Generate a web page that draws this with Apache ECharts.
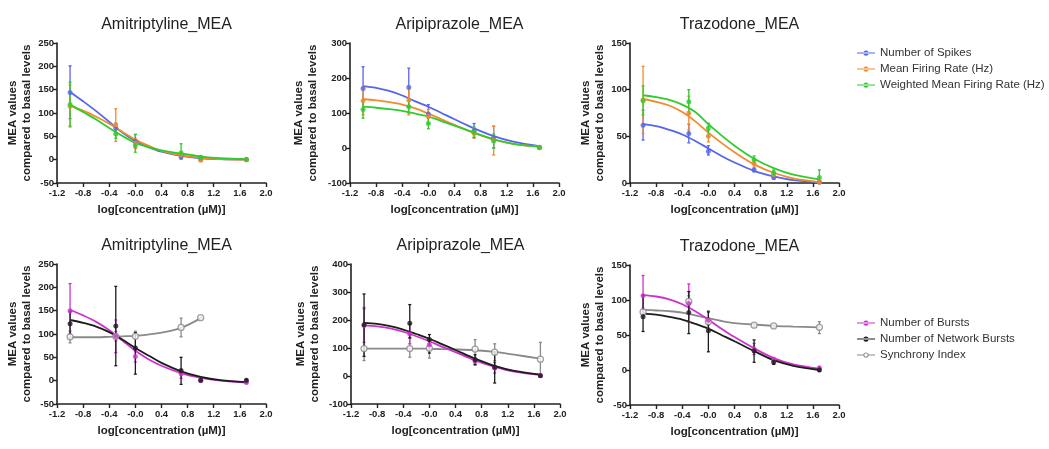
<!DOCTYPE html>
<html>
<head>
<meta charset="utf-8">
<script src="https://cdn.jsdelivr.net/npm/echarts@6/dist/echarts.min.js"></script>
<style>html,body{margin:0;padding:0;background:#fff;}#c{width:1049px;height:449px;}</style>
</head>
<body>
<div id="c"></div>
<script>
// ---------- data ----------
const titles = ['Amitriptyline_MEA','Aripiprazole_MEA','Trazodone_MEA','Amitriptyline_MEA','Aripiprazole_MEA','Trazodone_MEA'];
const xTicks = ['-1.2','-0.8','-0.4','-0.0','0.4','0.8','1.2','1.6','2.0'];
const doses = [-1, -0.3, 0, 0.7, 1.0, 1.7];
const curveX = [-1, -0.8, -0.6, -0.4, -0.2, 0, 0.2, 0.4, 0.7, 1.0, 1.3, 1.7];
const yMins = [-50, -100, 0, -50, -100, -50];
const yMaxs = [250, 300, 150, 250, 400, 150];
const yInts = [50, 100, 50, 50, 100, 50];
const topNames = ['Number of Spikes', 'Mean Firing Rate (Hz)', 'Weighted Mean Firing Rate (Hz)'];
const botNames = ['Number of Bursts', 'Number of Network Bursts', 'Synchrony Index'];

// Panel 1: Amitriptyline (top)
const amiSpikesPts = [144, 68, 39, 6, 1, 0];
const amiSpikesErr = [[88,201],[58,78],[24,54],[2,10],[-1,3],[-1,1]];
const amiSpikesFit = [145, 125, 104, 81, 58, 40, 27, 17, 8, 3, 1, 0];
const amiMfrPts = [114, 75, 35, 10, -1, 0];
const amiMfrErr = [[70,160],[39,109],[24,46],[5,15],[-3,1],[-2,2]];
const amiMfrFit = [116, 105, 92, 77, 60, 43, 30, 19, 9, 4, 1, 0];
const amiWmfrPts = [118, 55, 30, 15, 5, 1];
const amiWmfrErr = [[72,166],[46,64],[16,54],[1,34],[2,8],[-1,3]];
const amiWmfrFit = [118, 102, 86, 68, 51, 36, 27, 20, 13, 7, 3, 1];
// Panel 2: Aripiprazole (top)
const ariSpikesPts = [170, 173, 97, 50, 30, 2];
const ariSpikesErr = [[108,232],[118,228],[70,124],[30,70],[0,62],[0,4]];
const ariSpikesFit = [177, 172, 163, 150, 133, 118, 100, 82, 56, 34, 18, 5];
const ariMfrPts = [135, 137, 90, 42, 22, 2];
const ariMfrErr = [[95,175],[95,178],[70,110],[28,56],[-20,62],[0,4]];
const ariMfrFit = [140, 136, 131, 124, 113, 98, 82, 66, 43, 24, 12, 4];
const ariWmfrPts = [110, 118, 70, 45, 20, 1];
const ariWmfrErr = [[85,135],[100,135],[55,85],[30,60],[0,40],[-1,3]];
const ariWmfrFit = [118, 115, 111, 106, 98, 90, 77, 64, 44, 25, 12, 4];
// Panel 3: Trazodone (top)
const traSpikesPts = [62, 53, 34, 14, 6, 1];
const traSpikesErr = [[46,78],[43,63],[30,40],[12,16],[4,8],[0,2]];
const traSpikesFit = [63, 61, 57, 52, 45, 37, 29, 22, 13, 7, 3, 1];
const traMfrPts = [89, 75, 50, 21, 9, 1];
const traMfrErr = [[53,125],[57,93],[44,56],[17,25],[6,12],[-1,3]];
const traMfrFit = [90, 87, 83, 76, 66, 54, 43, 33, 20, 11, 5, 1];
const traWmfrPts = [88, 87, 59, 25, 11, 6];
const traWmfrErr = [[73,104],[74,100],[50,64],[21,29],[8,14],[0,14]];
const traWmfrFit = [94, 92, 89, 84, 76, 63, 51, 40, 26, 16, 9, 4];
// Panel 4: Amitriptyline (bottom)
const amiBurstPts = [150, 95, 52, 15, 0, -4];
const amiBurstErr = [[92,208],[60,130],[40,64],[5,25],[-2,2],[-6,-2]];
const amiBurstFit = [152, 140, 126, 108, 86, 64, 46, 32, 16, 6, 0, -4];
const amiNetPts = [122, 117, 70, 21, 1, 1];
const amiNetErr = [[100,148],[32,202],[14,103],[-8,50],[-1,3],[-1,3]];
const amiNetFit = [130, 124, 116, 104, 88, 70, 54, 38, 20, 8, 1, -3];
const amiSyncPts = [94, 95, 95, 114, 135, null];
const amiSyncErr = [[81,106],[85,105],[73,106],[94,134],[133,137],null];
const amiSyncFit = [93, 93, 93, 94, 95, 96, 99, 103, 113, 134, null, null];
// Panel 5: Aripiprazole (bottom)
const ariBurstPts = [180, 150, 112, 52, 29, 2];
const ariBurstErr = [[120,240],[115,185],[95,130],[40,64],[10,48],[0,4]];
const ariBurstFit = [181, 177, 170, 158, 142, 124, 104, 85, 56, 33, 16, 4];
const ariNetPts = [183, 188, 130, 58, 31, 1];
const ariNetErr = [[70,293],[136,255],[82,148],[40,76],[-25,85],[-3,5]];
const ariNetFit = [190, 186, 178, 166, 150, 133, 113, 93, 62, 36, 18, 5];
const ariSyncPts = [98, 98, 99, 96, 85, 60];
const ariSyncErr = [[55,245],[67,136],[64,134],[64,130],[55,115],[5,120]];
const ariSyncFit = [98, 98, 98, 98, 98, 97, 96, 95, 92, 86, 76, 62];
// Panel 6: Trazodone (bottom)
const traBurstPts = [106, 95, 71, 30, 15, 3];
const traBurstErr = [[78,135],[68,123],[60,82],[22,38],[12,18],[1,5]];
const traBurstFit = [107, 105, 101, 94, 84, 72, 59, 47, 31, 17, 8, 2];
const traNetPts = [76, 82, 56, 27, 11, 0];
const traNetErr = [[55,107],[52,112],[26,84],[11,43],[8,14],[-2,2]];
const traNetFit = [81, 79, 76, 72, 66, 59, 50, 41, 27, 14, 6, 0];
const traSyncPts = [83, 98, 69, 64, 63, 61];
const traSyncErr = [[78,88],[90,106],[64,74],[62,66],[61,65],[52,69]];
const traSyncFit = [86, 85, 84, 82, 78, 74, 70, 67, 65, 63, 62, 61];

const colors = {
  'Number of Spikes': '#5565ec',
  'Mean Firing Rate (Hz)': '#f28a2e',
  'Weighted Mean Firing Rate (Hz)': '#2fcc2f',
  'Number of Bursts': '#cc33cc',
  'Number of Network Bursts': '#1c1c1c',
  'Synchrony Index': '#8a8a8a'
};

const panels = [
  [['Number of Spikes', amiSpikesPts, amiSpikesErr, amiSpikesFit], ['Mean Firing Rate (Hz)', amiMfrPts, amiMfrErr, amiMfrFit], ['Weighted Mean Firing Rate (Hz)', amiWmfrPts, amiWmfrErr, amiWmfrFit]],
  [['Number of Spikes', ariSpikesPts, ariSpikesErr, ariSpikesFit], ['Mean Firing Rate (Hz)', ariMfrPts, ariMfrErr, ariMfrFit], ['Weighted Mean Firing Rate (Hz)', ariWmfrPts, ariWmfrErr, ariWmfrFit]],
  [['Number of Spikes', traSpikesPts, traSpikesErr, traSpikesFit], ['Mean Firing Rate (Hz)', traMfrPts, traMfrErr, traMfrFit], ['Weighted Mean Firing Rate (Hz)', traWmfrPts, traWmfrErr, traWmfrFit]],
  [['Synchrony Index', amiSyncPts, amiSyncErr, amiSyncFit], ['Number of Bursts', amiBurstPts, amiBurstErr, amiBurstFit], ['Number of Network Bursts', amiNetPts, amiNetErr, amiNetFit]],
  [['Synchrony Index', ariSyncPts, ariSyncErr, ariSyncFit], ['Number of Bursts', ariBurstPts, ariBurstErr, ariBurstFit], ['Number of Network Bursts', ariNetPts, ariNetErr, ariNetFit]],
  [['Synchrony Index', traSyncPts, traSyncErr, traSyncFit], ['Number of Bursts', traBurstPts, traBurstErr, traBurstFit], ['Number of Network Bursts', traNetPts, traNetErr, traNetFit]]
];

// ---------- layout ----------
const gridLefts = [57, 350, 630, 57, 351, 630];
const gridTops = [43, 43, 43, 264, 264, 265];
const gridW = 209, gridH = 140;
const yNameGaps = [22, 30, 21, 22, 29, 20];
const FONT = "'Liberation Sans', Arial, sans-serif";

const grids = [], xAxes = [], yAxes = [], titleArr = [], series = [];
for (let i = 0; i < 6; i++) {
  grids.push({left: gridLefts[i], top: gridTops[i], width: gridW, height: gridH});
  titleArr.push({text: titles[i], left: gridLefts[i] + gridW / 2, top: gridTops[i] - 31, textAlign: 'center',
    textStyle: {fontFamily: FONT, fontSize: 16, fontWeight: 'normal', color: '#222'}});
  xAxes.push({type: 'value', gridIndex: i, min: -1.2, max: 2.0, interval: 0.4,
    name: 'log[concentration (\u00b5M)]', nameLocation: 'middle', nameGap: 21,
    nameTextStyle: {fontFamily: FONT, fontSize: 11.5, fontWeight: 'bold', color: '#222'},
    axisLine: {onZero: false, lineStyle: {color: '#222', width: 1.6}},
    axisTick: {show: true, length: 4, lineStyle: {color: '#222', width: 1.4}},
    axisLabel: {margin: 5, fontFamily: FONT, fontSize: 9.5, fontWeight: 'bold', color: '#222',
      formatter: v => xTicks[Math.round((v + 1.2) / 0.4)]},
    splitLine: {show: false}});
  yAxes.push({type: 'value', gridIndex: i, min: yMins[i], max: yMaxs[i], interval: yInts[i],
    name: 'MEA values\ncompared to basal levels', nameLocation: 'middle', nameRotate: 90, nameGap: yNameGaps[i],
    nameTextStyle: {fontFamily: FONT, fontSize: 11.5, fontWeight: 'bold', color: '#222', lineHeight: 14},
    axisLine: {show: true, onZero: false, lineStyle: {color: '#222', width: 1.6}},
    axisTick: {show: true, length: 4, lineStyle: {color: '#222', width: 1.4}},
    axisLabel: {margin: 3, fontFamily: FONT, fontSize: 9.5, fontWeight: 'bold', color: '#222'},
    splitLine: {show: false}});

  panels[i].forEach(([name, pts, errs, fit]) => {
    const c = colors[name];
    const open = name === 'Synchrony Index';
    const fitData = curveX.map((x, k) => fit[k] == null ? null : [x, fit[k]]).filter(d => d);
    series.push({name, type: 'line', xAxisIndex: i, yAxisIndex: i, data: fitData, smooth: 0.35,
      showSymbol: false, symbol: 'none', lineStyle: {color: c, width: 1.8}, itemStyle: {color: c}, z: 2, silent: true});
    const errData = doses.map((x, k) => errs[k] ? [x, errs[k][0], errs[k][1]] : null).filter(d => d);
    series.push({name, type: 'custom', xAxisIndex: i, yAxisIndex: i, data: errData, z: 3,
      itemStyle: {color: c}, encode: {x: 0, y: [1, 2]}, silent: true,
      renderItem: (params, api) => {
        const x = api.value(0);
        const p1 = api.coord([x, api.value(1)]);
        const p2 = api.coord([x, api.value(2)]);
        const st = {stroke: c, lineWidth: 1.3};
        return {type: 'group', children: [
          {type: 'line', shape: {x1: p1[0], y1: p1[1], x2: p2[0], y2: p2[1]}, style: st},
          {type: 'line', shape: {x1: p1[0] - 1.5, y1: p1[1], x2: p1[0] + 1.5, y2: p1[1]}, style: st},
          {type: 'line', shape: {x1: p2[0] - 1.5, y1: p2[1], x2: p2[0] + 1.5, y2: p2[1]}, style: st}
        ]};
      }});
    const ptData = doses.map((x, k) => pts[k] == null ? null : [x, pts[k]]).filter(d => d);
    series.push({name, type: 'scatter', xAxisIndex: i, yAxisIndex: i, data: ptData, z: 4,
      symbol: 'circle', symbolSize: open ? 6 : 5,
      itemStyle: open ? {color: '#fff', borderColor: c, borderWidth: 1.3} : {color: c}, silent: true});
  });
}

const dotIcon = 'path://M0,4.2h24v1.6h-24z M8.5,5a3.5,3.5 0 1,0 7,0a3.5,3.5 0 1,0 -7,0z';
const ringIcon = 'path://M0,4.2h8.6v1.6h-8.6z M15.4,4.2h8.6v1.6h-8.6z M8.5,5a3.5,3.5 0 1,0 7,0a3.5,3.5 0 1,0 -7,0z M9.8,5a2.2,2.2 0 1,1 4.4,0a2.2,2.2 0 1,1 -4.4,0z';
const legendBase = {orient: 'vertical', left: 852, itemWidth: 18, itemHeight: 7, itemGap: 2,
  selectedMode: false,
  textStyle: {fontFamily: FONT, fontSize: 11.5, color: '#333', lineHeight: 14}};

const chart = echarts.init(document.getElementById('c'), null, {renderer: 'canvas'});
chart.setOption({
  animation: false,
  backgroundColor: '#fff',
  title: titleArr,
  grid: grids,
  xAxis: xAxes,
  yAxis: yAxes,
  legend: [
    Object.assign({}, legendBase, {top: 41, data: topNames.map(n => ({name: n, icon: dotIcon}))}),
    Object.assign({}, legendBase, {top: 311, data: botNames.map(n => ({name: n, icon: n === 'Synchrony Index' ? ringIcon : dotIcon}))})
  ],
  series: series
});
</script>
</body>
</html>
